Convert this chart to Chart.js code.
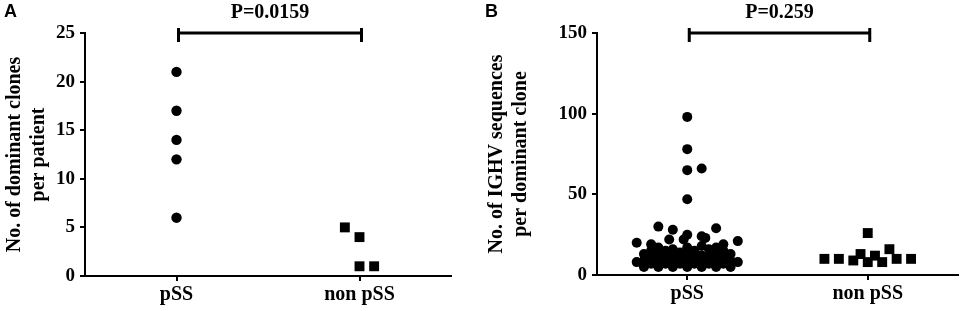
<!DOCTYPE html>
<html>
<head>
<meta charset="utf-8">
<script src="https://cdn.jsdelivr.net/npm/chart.js@4.4.0/dist/chart.umd.min.js"></script>
<style>
  body { margin: 0; background: #fff; width: 965px; height: 311px; position: relative; overflow: hidden; }
  .panel { position: absolute; top: 0; height: 311px; }
  #panelA { left: 0; width: 460px; }
  #panelB { left: 480px; width: 485px; }
</style>
</head>
<body>
<div class="panel" id="panelA"><canvas id="chartA" width="460" height="311"></canvas></div>
<div class="panel" id="panelB"><canvas id="chartB" width="485" height="311"></canvas></div>
<script>
const categories = ["pSS", "non pSS"];

// Panel A: dominant clones per patient
const aPssValues = [21, 17, 14, 12, 6];
const aPssOffsets = [0, 0, 0, 0, 0];
const aNonValues = [5, 4, 1, 1];
const aNonOffsets = [-0.08, 0, 0, 0.08];
const aYTicks = [0, 5, 10, 15, 20, 25];

// Panel B: IGHV sequences per dominant clone
const bPssValues = [
  98, 78, 65, 66, 47, 30, 28, 29, 25, 24, 23, 22, 22, 20, 21, 19, 19,
  17, 16, 17, 18, 17,
  15, 15, 14, 15, 16, 15,
  13, 12, 13, 13, 12, 13, 13,
  11, 11, 10, 11, 11, 11,
  9, 9, 9, 8, 9, 9, 9,
  8, 7, 7, 7, 7, 7, 7, 8,
  5, 5, 5, 5, 5, 5, 5
];
const bPssOffsets = [
  0, 0, 0, 0.08, 0, -0.16, -0.08, 0.16, 0, 0.08, 0.1, -0.02, -0.1, -0.28, 0.28, -0.2, 0.2,
  -0.16, -0.08, 0, 0.08, 0.16,
  -0.2, -0.12, -0.04, 0.04, 0.12, 0.2,
  -0.24, -0.16, -0.08, 0, 0.08, 0.16, 0.24,
  -0.2, -0.12, -0.04, 0.04, 0.12, 0.2,
  -0.24, -0.16, -0.08, 0, 0.08, 0.16, 0.24,
  -0.28, -0.2, -0.12, -0.04, 0.04, 0.12, 0.2, 0.28,
  -0.24, -0.16, -0.08, 0, 0.08, 0.16, 0.24
];
const bNonValues = [26, 10, 10, 9, 13, 8, 12, 8, 16, 10, 10];
const bNonOffsets = [0, -0.24, -0.16, -0.08, -0.04, 0, 0.04, 0.08, 0.12, 0.16, 0.24];
const bYTicks = [0, 50, 100, 150];

const serif = '"Liberation Serif", "Times New Roman", serif';

function toPoints(cat, values, offsets) {
  return values.map((v, i) => ({ x: cat + offsets[i], y: v }));
}

// bracket with P value + panel letter
const bracketPlugin = {
  id: "bracket",
  afterDraw(chart, args, opts) {
    const { ctx, scales: { x, y } } = chart;
    const x1 = x.getPixelForValue(1) + 2;
    const x2 = x.getPixelForValue(2) + 2;
    const yy = y.getPixelForValue(y.max);
    ctx.save();
    ctx.strokeStyle = "#000";
    ctx.lineWidth = 3;
    ctx.beginPath();
    ctx.moveTo(x1, yy); ctx.lineTo(x2, yy);
    ctx.moveTo(x1, yy - 5); ctx.lineTo(x1, yy + 9);
    ctx.moveTo(x2, yy - 5); ctx.lineTo(x2, yy + 9);
    ctx.stroke();
    ctx.fillStyle = "#000";
    ctx.font = "bold 20px " + serif;
    ctx.textAlign = "center";
    ctx.textBaseline = "alphabetic";
    ctx.fillText(opts.pText, (x1 + x2) / 2, 18);
    ctx.font = 'bold 18px "Liberation Sans", Arial, sans-serif';
    ctx.textAlign = "left";
    ctx.fillText(opts.letter, opts.letterX, 17);
    ctx.restore();
  }
};

function makeChart(id, cfg) {
  const tickFont = { family: serif, size: 19, weight: "bold" };
  new Chart(document.getElementById(id), {
    type: "scatter",
    data: {
      datasets: [
        {
          data: toPoints(1, cfg.pssValues, cfg.pssOffsets),
          pointStyle: "circle",
          pointRadius: cfg.circleR,
          pointHoverRadius: cfg.circleR,
          backgroundColor: "#000",
          borderWidth: 0,
          clip: false,
        },
        {
          data: toPoints(2, cfg.nonValues, cfg.nonOffsets),
          pointStyle: "rect",
          pointRadius: 7,
          pointHoverRadius: 7,
          backgroundColor: "#000",
          borderWidth: 0,
          clip: false,
        },
      ],
    },
    options: {
      responsive: false,
      animation: false,
      layout: { padding: { top: 33, right: cfg.padRight, left: 0, bottom: 0 } },
      plugins: {
        legend: { display: false },
        tooltip: { enabled: false },
        bracket: { pText: cfg.pText, letter: cfg.letter, letterX: cfg.letterX },
      },
      scales: {
        x: {
          type: "linear",
          min: 0.5,
          max: 2.5,
          afterBuildTicks: (s) => { s.ticks = [{ value: 1 }, { value: 2 }]; },
          afterFit: (s) => { s.height = cfg.xHeight; },
          ticks: {
            callback: (v) => categories[v - 1],
            font: { family: serif, size: 20, weight: "bold" },
            color: "#000",
            padding: 2,
            maxRotation: 0,
            autoSkip: false,
          },
          grid: { drawOnChartArea: false, tickLength: 5, color: "#000", lineWidth: 2 },
          border: { color: "#000", width: 2 },
        },
        y: {
          min: 0,
          max: cfg.yTicks[cfg.yTicks.length - 1],
          afterBuildTicks: (s) => { s.ticks = cfg.yTicks.map((v) => ({ value: v })); },
          afterFit: (s) => { s.width = cfg.yWidth; },
          ticks: { font: tickFont, color: "#000", padding: 5 },
          title: {
            display: true,
            text: cfg.yTitle,
            font: { family: serif, size: 20, weight: "bold" },
            color: "#000",
            padding: { top: cfg.titlePad, bottom: 0 },
          },
          grid: { drawOnChartArea: false, tickLength: 5, color: "#000", lineWidth: 2 },
          border: { color: "#000", width: 2 },
        },
      },
    },
    plugins: [bracketPlugin],
  });
}

makeChart("chartA", {
  pssValues: aPssValues, pssOffsets: aPssOffsets,
  nonValues: aNonValues, nonOffsets: aNonOffsets,
  yTicks: aYTicks, circleR: 5.2,
  yTitle: ["No. of dominant clones", "per patient"],
  pText: "P=0.0159", letter: "A", letterX: 4,
  yWidth: 85, xHeight: 35, padRight: 9, titlePad: 3,
});

makeChart("chartB", {
  pssValues: bPssValues, pssOffsets: bPssOffsets,
  nonValues: bNonValues, nonOffsets: bNonOffsets,
  yTicks: bYTicks, circleR: 5,
  yTitle: ["No. of IGHV sequences", "per dominant clone"],
  pText: "P=0.259", letter: "B", letterX: 5,
  yWidth: 117, xHeight: 36, padRight: 3, titlePad: 5,
});
</script>
</body>
</html>
